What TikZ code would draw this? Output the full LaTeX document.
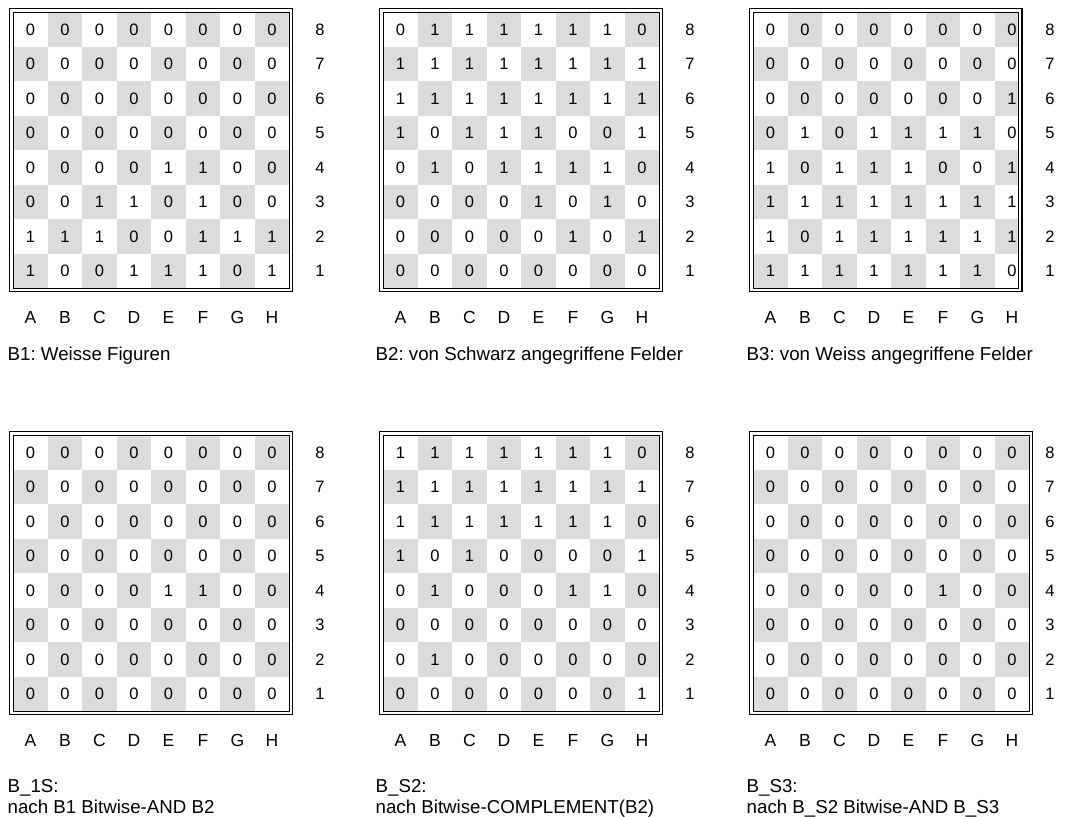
\documentclass[tikz,border=0pt]{standalone}
\usepackage{fontspec}
\setmainfont{Liberation Sans}
\usepackage{xcolor}
\usepackage{tikz}
\definecolor{feldGrau}{HTML}{DCDCDC}
\frenchspacing

% #1 Name, #2 x, #3 y, #4 Rahmenbreite, #5 x der Rangzahlen, #6 Zeilen 8..1
\newcommand{\brett}[6]{%
  \begin{scope}[shift={(#2,#3)}]
    \begin{scope}
      \clip (3.5,3.5) rectangle (#4-3.5,279.5);
      \foreach \zeile [count=\r from 0] in {#6} {
        \foreach \bit [count=\c from 0] in \zeile {
          \pgfmathtruncatemacro{\dunkel}{mod(\r+\c,2)}
          \ifnum\dunkel=1
            \fill[feldGrau] (3.5+\c*34.5,3.5+\r*34.5) rectangle ++(34.5,34.5);
          \fi
          \node[ziffer] (#1-\c-\r) at (21+\c*34.5,21+\r*34.5) {\bit};
        }
      }
    \end{scope}
    \draw[innen] (3.5,3.5) rectangle (#4-3.5,279.5);
    \draw[aussen] (0,0) rectangle (#4,283);
    \foreach \n [count=\r from 0] in {8,7,6,5,4,3,2,1}
      \node[ziffer] (#1-rang-\n) at (#5,21+\r*34.5) {\n};
    \foreach \b [count=\c from 0] in {A,B,C,D,E,F,G,H}
      \node[buchstabe] (#1-linie-\b) at (21+\c*34.5,308.5) {\b};
  \end{scope}}

\begin{document}
\begin{tikzpicture}[x=1pt, y=-1pt,
  ziffer/.style={inner sep=0pt, font=\fontsize{16.5}{19}\selectfont},
  buchstabe/.style={inner sep=0pt, font=\fontsize{17.5}{20}\selectfont},
  titel/.style={anchor=base west, inner sep=0pt, font=\fontsize{18.7}{22}\selectfont},
  aussen/.style={draw=black, line width=1.3pt},
  innen/.style={draw=black, line width=0.9pt}
]
\useasboundingbox (0,0) rectangle (1069,817);

% obere Reihe
\brett{b1}{9.5}{8.5}{283}{310.5}{
  {0,0,0,0,0,0,0,0},
  {0,0,0,0,0,0,0,0},
  {0,0,0,0,0,0,0,0},
  {0,0,0,0,0,0,0,0},
  {0,0,0,0,1,1,0,0},
  {0,0,1,1,0,1,0,0},
  {1,1,1,0,0,1,1,1},
  {1,0,0,1,1,1,0,1}}
\brett{b2}{379.5}{8.5}{283}{310.5}{
  {0,1,1,1,1,1,1,0},
  {1,1,1,1,1,1,1,1},
  {1,1,1,1,1,1,1,1},
  {1,0,1,1,1,0,0,1},
  {0,1,0,1,1,1,1,0},
  {0,0,0,0,1,0,1,0},
  {0,0,0,0,0,1,0,1},
  {0,0,0,0,0,0,0,0}}
\brett{b3}{749.5}{8.5}{272.5}{300.5}{
  {0,0,0,0,0,0,0,0},
  {0,0,0,0,0,0,0,0},
  {0,0,0,0,0,0,0,1},
  {0,1,0,1,1,1,1,0},
  {1,0,1,1,1,0,0,1},
  {1,1,1,1,1,1,1,1},
  {1,0,1,1,1,1,1,1},
  {1,1,1,1,1,1,1,0}}

\node[titel] (t1) at (7.5,360) {B1: Weisse Figuren};
\node[titel] (t2) at (375.5,360) {B2: von Schwarz angegriffene Felder};
\node[titel] (t3) at (746.5,360) {B3: von Weiss angegriffene Felder};

% untere Reihe
\brett{s1}{9.5}{431.5}{283}{310.5}{
  {0,0,0,0,0,0,0,0},
  {0,0,0,0,0,0,0,0},
  {0,0,0,0,0,0,0,0},
  {0,0,0,0,0,0,0,0},
  {0,0,0,0,1,1,0,0},
  {0,0,0,0,0,0,0,0},
  {0,0,0,0,0,0,0,0},
  {0,0,0,0,0,0,0,0}}
\brett{s2}{379.5}{431.5}{283}{310.5}{
  {1,1,1,1,1,1,1,0},
  {1,1,1,1,1,1,1,1},
  {1,1,1,1,1,1,1,0},
  {1,0,1,0,0,0,0,1},
  {0,1,0,0,0,1,1,0},
  {0,0,0,0,0,0,0,0},
  {0,1,0,0,0,0,0,0},
  {0,0,0,0,0,0,0,1}}
\brett{s3}{749.5}{431.5}{283}{300.5}{
  {0,0,0,0,0,0,0,0},
  {0,0,0,0,0,0,0,0},
  {0,0,0,0,0,0,0,0},
  {0,0,0,0,0,0,0,0},
  {0,0,0,0,0,1,0,0},
  {0,0,0,0,0,0,0,0},
  {0,0,0,0,0,0,0,0},
  {0,0,0,0,0,0,0,0}}

\node[titel] (t4a) at (7.5,792) {B\_1S:};
\node[titel] (t4b) at (7.5,813) {nach B1 Bitwise-AND B2};
\node[titel] (t5a) at (375.5,792) {B\_S2:};
\node[titel] (t5b) at (375.5,813) {nach Bitwise-COMPLEMENT(B2)};
\node[titel] (t6a) at (746.5,792) {B\_S3:};
\node[titel] (t6b) at (746.5,813) {nach B\_S2 Bitwise-AND B\_S3};
\end{tikzpicture}
\end{document}
